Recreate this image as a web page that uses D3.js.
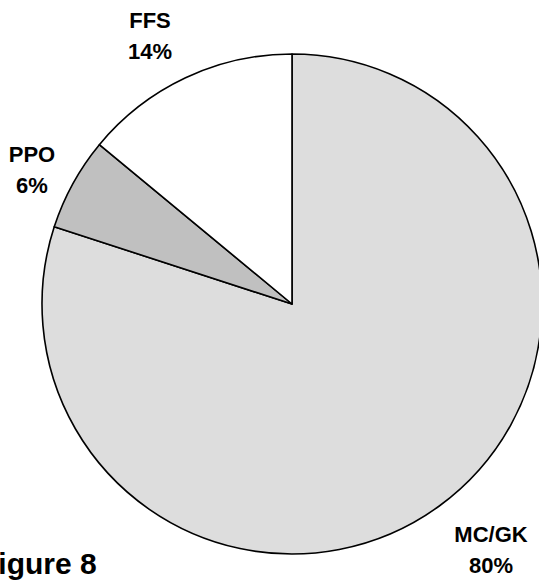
<!DOCTYPE html>
<html>
<head>
<meta charset="utf-8">
<script src="https://cdn.jsdelivr.net/npm/d3@7"></script>
<style>
  html, body { margin: 0; padding: 0; background: #fff; }
  svg { display: block; }
  text { font-family: "Liberation Sans", Arial, sans-serif; font-weight: bold; fill: #000; }
</style>
</head>
<body>
<svg id="chart" width="539" height="580"></svg>
<script>
// Plan type shares, clockwise from 12 o'clock
const categories = ["MC/GK", "PPO", "FFS"];
const shares = [80, 6, 14];
const fills = ["#dddddd", "#c0c0c0", "#ffffff"];

// Label anchor points (centre x, baseline of first line)
const labelPos = [[491, 542], [32, 162], [150, 28]];

const svg = d3.select("#chart");
const cx = 292, cy = 304, radius = 250;

const pie = d3.pie().sort(null).value(d => d.value).startAngle(0).endAngle(2 * Math.PI);
const arc = d3.arc().innerRadius(0).outerRadius(radius);

const data = categories.map((c, i) => ({ name: c, value: shares[i], fill: fills[i] }));

const g = svg.append("g").attr("transform", `translate(${cx},${cy})`);
g.selectAll("path")
  .data(pie(data))
  .join("path")
  .attr("d", arc)
  .attr("fill", d => d.data.fill)
  .attr("stroke", "#000")
  .attr("stroke-width", 1.6)
  .attr("stroke-linejoin", "round");

// Category labels with percentages
data.forEach((d, i) => {
  const t = svg.append("text")
    .attr("text-anchor", "middle")
    .attr("font-size", 22);
  t.append("tspan").attr("x", labelPos[i][0]).attr("y", labelPos[i][1]).text(d.name);
  t.append("tspan").attr("x", labelPos[i][0]).attr("y", labelPos[i][1] + 31).text(d.value + "%");
});

// Figure caption
svg.append("text")
  .attr("x", -20)
  .attr("y", 574)
  .attr("font-size", 30)
  .text("Figure 8");
</script>
</body>
</html>
